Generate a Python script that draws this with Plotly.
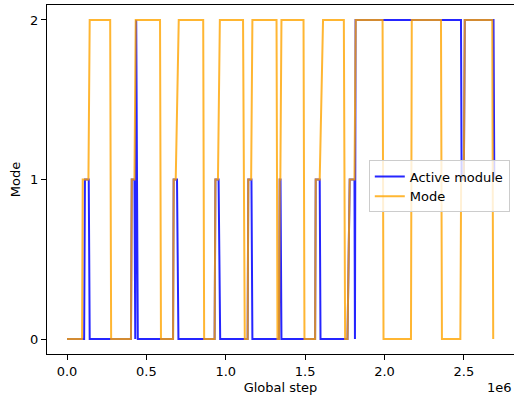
import plotly.graph_objects as go

# Active module series (global step, value)
active_steps = [0, 108000, 113000, 137000, 143000, 403000, 408000, 425000, 430000, 436000,
                446000, 668000, 672000, 693000, 702000, 930000, 935000, 955000, 965000,
                1138000, 1142000, 1162000, 1168000, 1336000, 1340000, 1345000, 1351000,
                1563000, 1567000, 1592000, 1597000, 1767000, 1781000, 1811000, 1814000,
                1818000, 2482000, 2486000, 2500000, 2506000, 2687000, 2692000]
active_vals = [0, 0, 1, 1, 0, 0, 1, 1, 0, 2,
               0, 0, 1, 1, 0, 0, 1, 1, 0,
               0, 1, 1, 0, 0, 1, 1, 0,
               0, 1, 1, 0, 0, 1, 1, 0,
               2, 2, 1, 1, 2, 2, 1]

# Mode series (global step, value)
mode_steps = [0, 95000, 99000, 135000, 143000, 272000, 278000, 403000, 408000, 425000,
              433000, 586000, 592000, 668000, 672000, 685000, 704000, 858000, 864000,
              930000, 935000, 951000, 963000, 1109000, 1120000, 1138000, 1142000, 1160000,
              1168000, 1320000, 1326000, 1336000, 1340000, 1344000, 1351000, 1490000,
              1496000, 1563000, 1567000, 1592000, 1613000, 1744000, 1752000, 1767000,
              1781000, 1811000, 1819000, 1988000, 1994000, 2167000, 2172000, 2356000,
              2362000, 2478000, 2483000, 2500000, 2506000, 2679000, 2685000]
mode_vals = [0, 0, 1, 1, 2, 2, 0, 0, 1, 1,
             2, 2, 0, 0, 1, 1, 2, 2, 0,
             0, 1, 1, 2, 2, 0, 0, 1, 1,
             2, 2, 0, 0, 1, 1, 2, 2,
             0, 0, 1, 1, 2, 2, 0, 0,
             1, 1, 2, 2, 0, 0, 2, 2,
             0, 0, 1, 1, 2, 2, 0]

x_tick_vals = [0, 500000, 1000000, 1500000, 2000000, 2500000]
x_tick_text = ["0.0", "0.5", "1.0", "1.5", "2.0", "2.5"]
y_tick_vals = [0, 1, 2]
y_tick_text = ["0", "1", "2"]

FONT = "DejaVu Sans"

fig = go.Figure()
fig.add_trace(go.Scatter(x=active_steps, y=active_vals, mode="lines", name="Active module",
                         line=dict(color="blue", width=2), opacity=0.85))
fig.add_trace(go.Scatter(x=mode_steps, y=mode_vals, mode="lines", name="Mode",
                         line=dict(color="orange", width=2), opacity=0.8))

axis_common = dict(showline=True, linecolor="black", linewidth=1,
                   ticks="outside", ticklen=5, tickwidth=1, tickcolor="black",
                   showgrid=False, zeroline=False,
                   tickfont=dict(family=FONT, size=13, color="black"))

fig.update_layout(
    width=514, height=398,
    margin=dict(l=47, r=0, t=5, b=44),
    paper_bgcolor="white", plot_bgcolor="white",
    font=dict(family=FONT, size=13, color="black"),
    showlegend=True,
    legend=dict(x=0.991, xanchor="right", y=0.48, yanchor="middle",
                bgcolor="rgba(255,255,255,0.8)", bordercolor="#cccccc", borderwidth=1,
                font=dict(family=FONT, size=13, color="black"),
                tracegroupgap=0, itemwidth=30),
    xaxis=dict(range=[-126000, 2816000], tickvals=x_tick_vals, ticktext=x_tick_text,
               mirror=True,
               title=dict(text="Global step", standoff=5,
                          font=dict(family=FONT, size=13, color="black")),
               **axis_common),
    yaxis=dict(range=[-0.094, 2.094], tickvals=y_tick_vals, ticktext=y_tick_text,
               mirror=False,
               title=dict(text="Mode", standoff=6,
                          font=dict(family=FONT, size=13, color="black")),
               **axis_common),
    annotations=[dict(text="1e6", xref="paper", yref="paper", x=1.0, y=-0.095,
                      xanchor="right", yanchor="middle", showarrow=False,
                      font=dict(family=FONT, size=13, color="black"))],
)

fig.write_html("out.html", config={"displayModeBar": False})
